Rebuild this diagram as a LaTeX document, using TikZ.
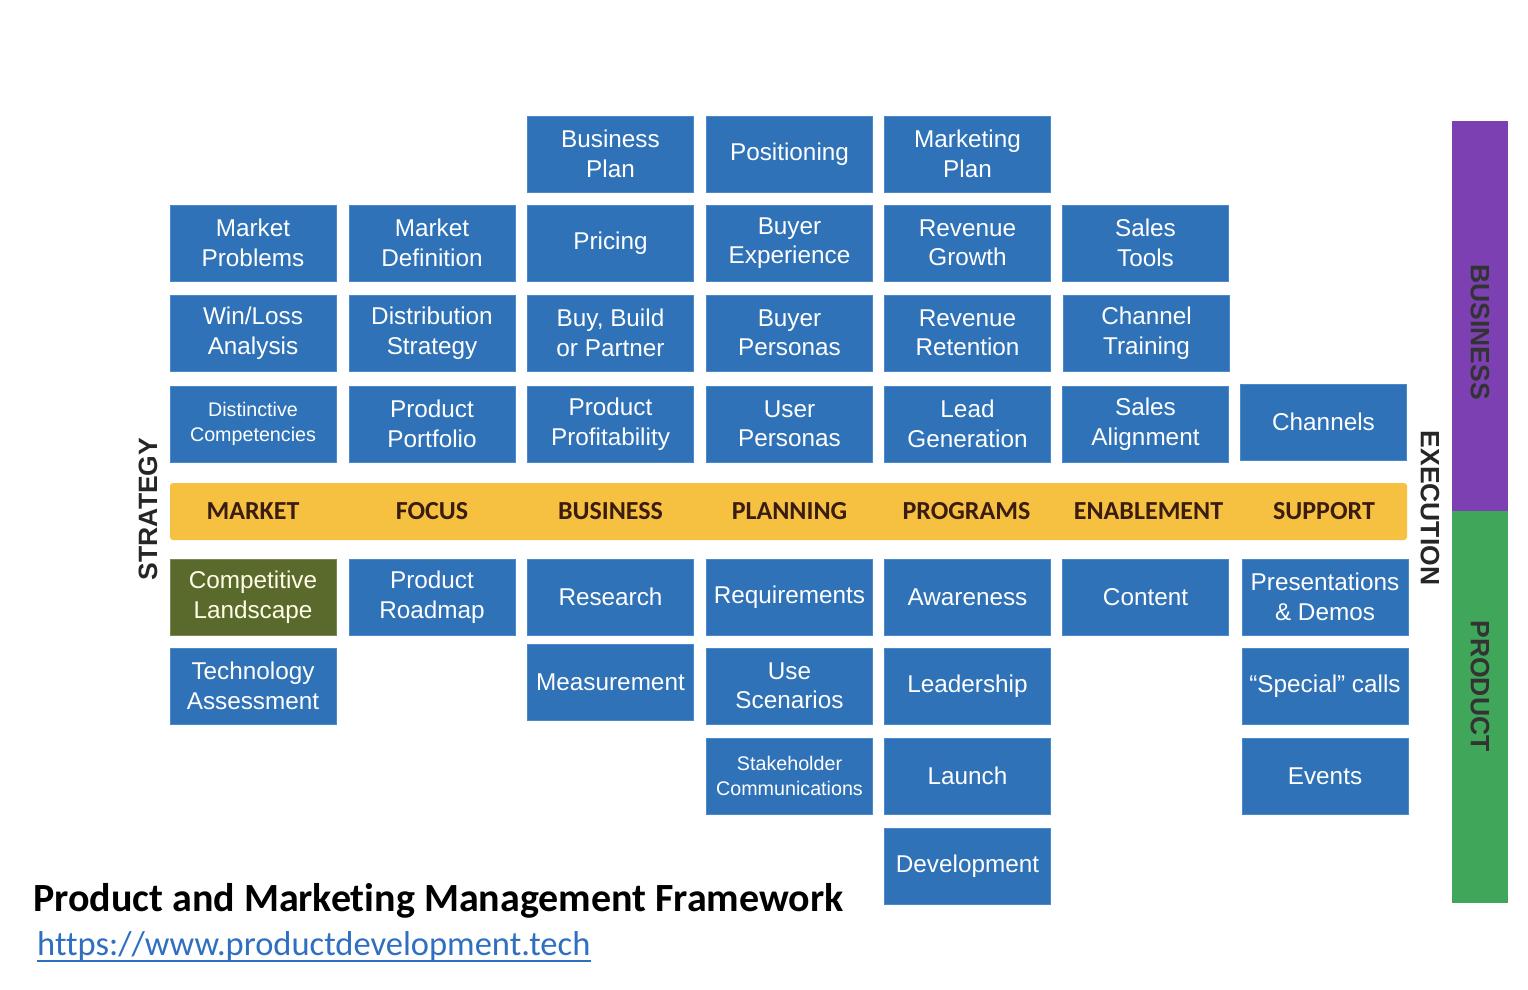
\documentclass[tikz,border=0pt]{standalone}
\usepackage{fontspec}
\setmainfont{Liberation Sans}
\newfontfamily\calfont[Ligatures={TeX,NoCommon}]{Carlito}
\definecolor{boxblue}{HTML}{2F72B7}
\definecolor{boxedge}{HTML}{4A8ACB}
\definecolor{olive}{HTML}{5A6A2C}
\definecolor{bandyellow}{HTML}{F6C141}
\definecolor{bandtext}{HTML}{3A1C10}
\definecolor{barpurple}{HTML}{7D40B2}
\definecolor{bargreen}{HTML}{3FA65A}
\definecolor{urlblue}{HTML}{2E6FC0}
\begin{document}
\begin{tikzpicture}[x=1pt,y=-1pt,
  box/.style={fill=boxblue, draw=boxedge, line width=0.8pt, minimum width=166pt, minimum height=76pt, inner sep=0pt, align=center, text=white, font=\fontsize{24.3}{29.5}\selectfont},
  smallbox/.style={box, font=\fontsize{19.7}{24.5}\selectfont},
  greenbox/.style={box, fill=olive, draw=olive!80!white, text=white!90!yellow},
  bandlabel/.style={font=\calfont\bfseries\fontsize{26}{28}\selectfont, text=bandtext},
  sidelabel/.style={font=\bfseries\fontsize{26.5}{28}\selectfont, text=black!85},
  barlabel/.style={font=\bfseries\fontsize{26.5}{28}\selectfont, text=black!80}]
\useasboundingbox (0,0) rectangle (1528,990);
% row 1
\node[box] (bplan) at (610.5,154) {Business\\Plan};
\node[box] (posit) at (789.5,154) {Positioning};
\node[box] (mplan) at (967.5,154) {Marketing\\Plan};
% row 2
\node[box] (mprob) at (253,243) {Market\\Problems};
\node[box] (mdef) at (432,243) {Market\\Definition};
\node[box] (pric) at (610.5,243) {Pricing};
\node[box] (bexp) at (789.5,243) {Buyer\\Experience};
\node[box] (rgro) at (967.5,243) {Revenue\\Growth};
\node[box] (stool) at (1145.5,243) {Sales\\Tools};
% row 3
\node[box] (wl) at (253,333) {Win/Loss\\Analysis};
\node[box] (dist) at (432,333) {Distribution\\Strategy};
\node[box] (bbp) at (610.5,333) {Buy, Build\\or Partner};
\node[box] (bpers) at (789.5,333) {Buyer\\Personas};
\node[box] (rret) at (967.5,333) {Revenue\\Retention};
\node[box] (ctrain) at (1146.5,333) {Channel\\Training};
% row 4
\node[smallbox] (dcomp) at (253,424) {Distinctive\\Competencies};
\node[box] (pport) at (432,424) {Product\\Portfolio};
\node[box] (pprof) at (610.5,424) {Product\\Profitability};
\node[box] (upers) at (789.5,424) {User\\Personas};
\node[box] (lgen) at (967.5,424) {Lead\\Generation};
\node[box] (salign) at (1145.5,424) {Sales\\Alignment};
\node[box] (chan) at (1323.5,422) {Channels};
% band
\node[fill=bandyellow, rounded corners=3pt, minimum width=1237pt, minimum height=57pt, inner sep=0pt] (band) at (788.5,511.5) {};
\node[bandlabel] (lmarket) at (253,511) {MARKET};
\node[bandlabel] (lfocus) at (432,511) {FOCUS};
\node[bandlabel] (lbus) at (610.5,511) {BUSINESS};
\node[bandlabel] (lplan) at (789.5,511) {PLANNING};
\node[bandlabel] (lprog) at (966.5,511) {PROGRAMS};
\node[bandlabel] (lenab) at (1148.5,511) {ENABLEMENT};
\node[bandlabel] (lsup) at (1324,511) {SUPPORT};
% row 5
\node[greenbox] (comp) at (253,597) {Competitive\\Landscape};
\node[box] (proad) at (432,597) {Product\\Roadmap};
\node[box] (res) at (610.5,597) {Research};
\node[box] (req) at (789.5,597) {Requirements};
\node[box] (aware) at (967.5,597) {Awareness};
\node[box] (cont) at (1145.5,597) {Content};
\node[box] (pres) at (1325,597) {Presentations\\\& Demos};
% row 6
\node[box] (tech) at (253,686) {Technology\\Assessment};
\node[box] (meas) at (610.5,682) {Measurement};
\node[box] (use) at (789.5,686) {Use\\Scenarios};
\node[box] (lead) at (967.5,686) {Leadership};
\node[box] (spec) at (1325,686) {“Special” calls};
% row 7
\node[smallbox] (stake) at (789.5,776) {Stakeholder\\Communications};
\node[box] (launch) at (967.5,776) {Launch};
\node[box] (events) at (1325,776) {Events};
% row 8
\node[box] (dev) at (967.5,866) {Development};
% side labels
\node[sidelabel, rotate=90] (strat) at (148,509) {STRATEGY};
\node[sidelabel, rotate=-90] (exec) at (1430,508) {EXECUTION};
% right bar
\fill[barpurple] (1452,121) rectangle (1508,511);
\fill[bargreen] (1452,511) rectangle (1508,903);
\node[barlabel, rotate=-90] (lbusiness) at (1480,332) {BUSINESS};
\node[barlabel, rotate=-90] (lproduct) at (1480,686) {PRODUCT};
% title
\node[anchor=base west, inner sep=0pt, font=\calfont\bfseries\fontsize{40}{44}\selectfont] (title) at (33,911) {Product and Marketing Management Framework};
\node[anchor=base west, inner sep=0pt, font=\calfont\fontsize{34.5}{38}\selectfont, text=urlblue] (url) at (37,955) {https://www.productdevelopment.tech};
\draw[urlblue, line width=1.6pt] (url.south west) -- (url.south east);
\end{tikzpicture}
\end{document}
